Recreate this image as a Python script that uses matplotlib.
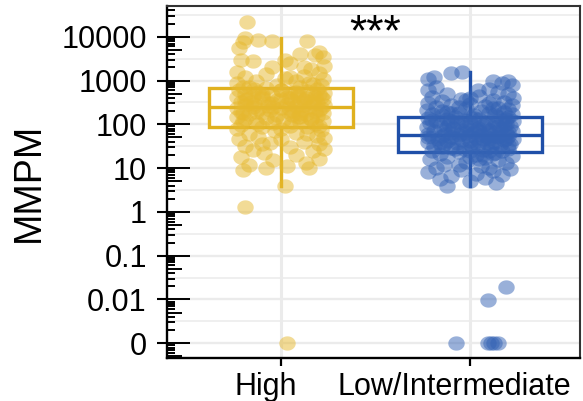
import numpy as np
import matplotlib
matplotlib.use("Agg")
import matplotlib.pyplot as plt
from matplotlib.transforms import blended_transform_factory

plt.rcParams['font.family'] = ['Liberation Sans', 'DejaVu Sans']

# ---------------------------------------------------------------- data
categories = ['High', 'Low/Intermediate']

high_values = [
    22000, 9500, 8500, 8000, 8000, 7500, 5500, 4500, 4000, 3800,
    3500, 3000, 2800, 2500, 2200, 2000, 1800, 1600, 1500, 1400,
    1300, 1200, 1150, 1100, 1000, 950, 900, 850, 800, 780,
    720, 700, 680, 650, 620, 600, 580, 560, 540, 520,
    500, 480, 470, 450, 440, 430, 420, 410, 400, 390,
    380, 370, 360, 350, 340, 330, 320, 310, 300, 295,
    290, 280, 270, 260, 250, 245, 240, 235, 230, 220,
    215, 210, 200, 195, 190, 185, 180, 175, 170, 165,
    160, 155, 150, 145, 140, 135, 130, 125, 120, 115,
    110, 105, 100, 95, 92, 88, 85, 80, 75, 70,
    65, 60, 55, 50, 48, 45, 40, 38, 35, 32,
    30, 28, 26, 25, 22, 20, 18, 16, 15, 13,
    12, 11, 10, 10, 9, 4, 1.3, 0,
    600, 450, 350, 250, 200, 150, 300, 400, 500, 180,
    900, 700, 550, 480, 420, 380, 330, 280, 260, 230,
    210, 190, 170, 140, 130, 120, 110, 100, 90, 80,
    60, 45, 35, 1200, 2000, 3000, 650, 520, 360, 310,
]
high_offsets = [
    -0.18, -0.19, -0.12, -0.05, 0.14, -0.20, -0.22, 0.20, 0.10, 0.18,
    0.22, -0.21, -0.15, 0.05, 0.23, -0.05, 0.16, -0.23, 0.20, -0.08,
    0.12, -0.19, 0.02, 0.22, -0.13, 0.08, -0.23, 0.17, -0.02, 0.21,
    -0.17, 0.10, -0.08, 0.19, 0.00, -0.22, 0.14, -0.12, 0.05, 0.23,
    -0.19, 0.17, -0.05, 0.09, -0.15, 0.21, -0.23, 0.03, 0.13, -0.10,
    0.22, -0.18, 0.06, -0.02, 0.16, -0.21, 0.10, -0.07, 0.19, -0.14,
    0.03, 0.23, -0.19, 0.08, -0.04, 0.15, -0.23, 0.00, 0.21, -0.12,
    0.11, -0.06, 0.18, -0.21, 0.04, 0.22, -0.10, 0.13, -0.17, 0.06,
    -0.02, 0.19, -0.23, 0.09, -0.08, 0.16, -0.19, 0.01, 0.22, -0.13,
    0.10, -0.04, 0.18, -0.21, 0.05, -0.10, 0.14, -0.23, 0.21, -0.03,
    0.08, -0.17, 0.19, -0.12, 0.23, -0.22, 0.12, -0.06, 0.20, -0.19,
    0.05, 0.23, -0.15, 0.17, -0.09, 0.08, -0.21, 0.20, -0.04, 0.13,
    -0.17, 0.03, -0.08, 0.15, -0.20, 0.02, -0.19, 0.03,
    0.00, -0.10, 0.12, -0.15, 0.06, 0.10, -0.05, 0.05, 0.20, -0.20,
    0.15, -0.20, 0.08, -0.10, 0.18, 0.00, -0.16, 0.12, -0.07, 0.04,
    0.20, -0.13, 0.10, -0.03, 0.16, -0.20, 0.06, -0.12, 0.20, 0.00,
    0.14, 0.00, -0.10, 0.05, 0.12, 0.02, -0.14, 0.09, -0.19, 0.17,
]

low_values = [
    1600, 1500, 1200, 1100, 1000, 950, 900, 800, 700, 650,
    600, 550, 500, 480, 450, 420, 400, 380, 360, 340,
    320, 300, 290, 280, 270, 260, 250, 240, 230, 220,
    210, 200, 195, 190, 185, 180, 175, 170, 165, 160,
    155, 150, 145, 140, 135, 130, 128, 125, 120, 118,
    115, 112, 110, 108, 105, 102, 100, 98, 95, 92,
    90, 88, 86, 84, 82, 80, 78, 76, 74, 72,
    70, 68, 66, 64, 62, 60, 58, 57, 56, 55,
    54, 53, 52, 51, 50, 49, 48, 47, 46, 45,
    44, 43, 42, 41, 40, 39, 38, 37, 36, 35,
    34, 33, 32, 31, 30, 29, 28, 27, 26, 25,
    24, 23, 22, 21, 20, 19, 18, 17, 16, 15,
    14, 13, 12, 11, 10, 9.5, 9, 8.5, 8, 7.5,
    7, 6.5, 6, 5.5, 5, 4.5, 4, 0.019, 0.0095, 0,
    0, 0, 0, 0, 150, 120, 90, 70, 60, 45,
    35, 25, 18, 110, 80, 65, 50, 40, 30, 20,
    400, 300, 250, 200, 170, 140, 125, 100, 95, 85,
    75, 68, 62, 55, 52, 48, 42, 38, 33, 28,
    24, 21, 16, 12, 10, 600, 350, 230, 180, 130,
]
low_offsets = [
    -0.04, -0.10, -0.19, -0.22, 0.12, 0.20, 0.17, 0.22, -0.18, 0.10,
    -0.22, 0.15, -0.12, 0.20, 0.05, -0.20, 0.23, -0.05, 0.12, -0.15,
    0.18, -0.22, 0.00, 0.22, -0.10, 0.08, -0.18, 0.15, -0.02, 0.20,
    -0.23, 0.06, -0.12, 0.18, -0.06, 0.10, -0.20, 0.22, 0.02, -0.15,
    0.14, -0.08, 0.20, -0.22, 0.05, -0.12, 0.17, -0.03, 0.23, -0.18,
    0.09, -0.07, 0.13, -0.21, 0.00, 0.19, -0.11, 0.07, -0.16, 0.21,
    -0.02, 0.12, -0.23, 0.04, -0.09, 0.16, -0.14, 0.10, -0.04, 0.22,
    -0.19, 0.02, 0.14, -0.10, 0.19, -0.22, 0.06, -0.06, 0.11, -0.15,
    0.20, -0.01, 0.09, -0.20, 0.15, -0.08, 0.03, 0.23, -0.17, 0.07,
    -0.04, 0.18, -0.12, 0.00, 0.13, -0.22, 0.09, -0.07, 0.21, -0.14,
    0.04, 0.16, -0.19, 0.01, 0.11, -0.10, 0.20, -0.03, 0.07, -0.20,
    0.17, -0.06, 0.13, -0.16, 0.03, 0.22, -0.12, 0.08, -0.21, 0.15,
    -0.02, 0.19, -0.14, 0.06, -0.18, 0.21, -0.05, 0.12, -0.22, 0.03,
    0.17, -0.10, 0.08, -0.16, 0.00, 0.14, -0.12, 0.19, 0.095, -0.074,
    0.095, 0.11, 0.126, 0.147, 0.00, -0.10, 0.15, 0.05, -0.13, 0.19,
    0.00, 0.10, 0.00, -0.05, 0.03, -0.02, -0.10, 0.12, -0.15, 0.07,
    0.00, 0.10, -0.06, -0.15, 0.13, 0.02, -0.20, 0.08, 0.18, -0.12,
    0.00, 0.20, -0.05, 0.15, -0.22, 0.10, 0.05, -0.16, 0.20, -0.08,
    0.00, 0.12, 0.05, -0.06, 0.10, 0.04, -0.02, 0.12, -0.10, 0.19,
]

# box summaries (lower whisker, Q1, median, Q3, upper whisker)
high_box = dict(whislo=4, q1=86, med=246, q3=670, whishi=9500)
low_box = dict(whislo=4, q1=23, med=56, q3=146, whishi=1550)

tick_values = [1e-3, 1e-2, 1e-1, 1, 10, 100, 1000, 10000]
tick_labels = ['0', '0.01', '0.1', '1', '10', '100', '1000', '10000']
zero_floor = 1e-3          # zeros are shown on the "0" row of the log axis
significance = '***'

# ---------------------------------------------------------------- style
box_colors = ['#E0B11F', '#1F4FA8']
point_colors = ['#E6B82E', '#3463B5']
grid_color = '#EBEBEB'

fig = plt.figure(figsize=(5.83, 4.01), dpi=100)
ax = fig.add_axes([0.2864, 0.1072, 0.7085, 0.8766])
ax.set_yscale('log')
ax.set_ylim(10 ** -3.336, 10 ** 4.69)
ax.set_xlim(-0.603, 1.582)

# grid: major decades, minor half-decades, vertical at categories
for t in tick_values:
    ax.axhline(t, color=grid_color, lw=1.7, zorder=0)
for d in range(-3, 5):
    ax.axhline(10 ** (d + 0.5), color=grid_color, lw=1.1, zorder=0)
for i in range(len(categories)):
    ax.axvline(i, color=grid_color, lw=2.2, zorder=0)

# boxes
for i, (box, name) in enumerate(zip([high_box, low_box], categories)):
    s = dict(box)
    s['label'] = name
    c = box_colors[i]
    ax.bxp([s], positions=[i], widths=0.76, showfliers=False, showcaps=False,
           patch_artist=True,
           boxprops=dict(facecolor='white', edgecolor=c, linewidth=2.4),
           whiskerprops=dict(color=c, linewidth=2.4),
           medianprops=dict(color=c, linewidth=2.4),
           zorder=2)

# jittered points (slightly elliptic marker)
theta = np.linspace(0, 2 * np.pi, 60)
ellipse = np.column_stack([np.cos(theta), 0.87 * np.sin(theta)])
for i, (vals, offs) in enumerate([(high_values, high_offsets),
                                  (low_values, low_offsets)]):
    v = np.asarray(vals, dtype=float)
    y = np.where(v == 0, zero_floor, v)
    x = i + np.asarray(offs)
    ax.scatter(x, y, s=140, marker=ellipse, color=point_colors[i],
               alpha=0.5, linewidths=0, zorder=3)

# log tick marks drawn inside the panel
trans = blended_transform_factory(ax.transAxes, ax.transData)
lo, hi = ax.get_ylim()
for d in range(-4, 5):
    for k in range(1, 10):
        yv = k * 10.0 ** d
        if not (lo <= yv <= hi):
            continue
        length = 0.056 if k == 1 else (0.036 if k == 5 else 0.019)
        ax.plot([0, length], [yv, yv], color='black', lw=1.4,
                transform=trans, clip_on=False, zorder=4,
                solid_capstyle='butt')

# axes
ax.set_xticks(range(len(categories)))
ax.set_xticklabels([''] * len(categories))
ax.set_yticks(tick_values)
ax.set_yticklabels(tick_labels)
ax.yaxis.set_minor_locator(matplotlib.ticker.NullLocator())
ax.tick_params(axis='y', direction='out', length=7.5, width=1.5,
               labelsize=22, pad=7, color='black')
ax.tick_params(axis='x', direction='out', length=6, width=1.6,
               labelsize=22, pad=3, color='black')
for side in ['left', 'bottom']:
    ax.spines[side].set_color('black')
    ax.spines[side].set_linewidth(1.7)
for side in ['top', 'right']:
    ax.spines[side].set_color('#333333')
    ax.spines[side].set_linewidth(1.5)

# category labels, nudged left so the long one stays inside the figure
for i, name in enumerate(categories):
    ax.annotate(name, xy=(i, 0), xycoords=('data', 'axes fraction'),
                xytext=(-11, -10), textcoords='offset points',
                ha='center', va='top', fontsize=22)

fig.text(29 / 583, 1 - 182 / 401, 'MMPM', rotation=90, ha='center',
         va='center', fontsize=27)
ax.text(0.5, 10 ** 3.8, significance, ha='center', va='baseline',
        fontsize=32)

fig.savefig('out.png', dpi=100)
